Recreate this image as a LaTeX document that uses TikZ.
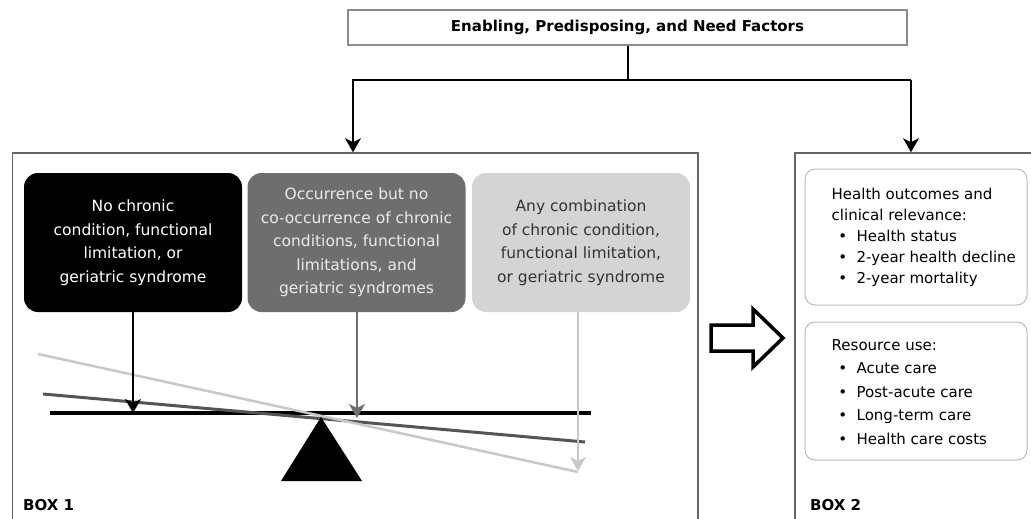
\documentclass[tikz,border=0pt]{standalone}
\usepackage{fontspec}
\setmainfont{DejaVu Sans}
\usetikzlibrary{arrows.meta}
\definecolor{midgray}{HTML}{6E6E6E}
\definecolor{lightfill}{HTML}{D4D4D4}
\definecolor{lightline}{HTML}{C8C8C8}
\definecolor{darkline}{HTML}{555555}
\definecolor{framegray}{HTML}{666666}
\definecolor{innergray}{HTML}{BBBBBB}
\begin{document}
\begin{tikzpicture}[x=1pt,y=-1pt,
  frame/.style={draw=framegray, line width=1.5pt, minimum height=377pt, inner sep=0pt},
  catbox/.style={rounded corners=14pt, minimum width=218pt, minimum height=139pt, inner sep=0pt, align=center, font=\fontsize{15.5}{23.5}\selectfont},
  outbox/.style={draw=innergray, line width=1pt, rounded corners=10pt, minimum width=222pt, inner sep=0pt},
  outtext/.style={anchor=west, inner sep=0pt, align=left},
  conn/.style={line width=2pt, line join=miter},
  arr/.style={conn, -{Stealth[length=14pt, width=16pt, inset=4pt]}},
  boxlabel/.style={anchor=west, inner sep=0pt, font=\fontsize{15}{18}\selectfont\bfseries}
]
\useasboundingbox (0,0) rectangle (1031,519);
\clip (0,0) rectangle (1031,519);

% top factor box
\node[draw=black!45, line width=1.2pt, fill=white, minimum width=559pt, minimum height=35pt, inner sep=0pt,
      font=\fontsize{15}{18}\selectfont\bfseries] (top) at (627.5,27.5) {Enabling, Predisposing, and Need Factors};

% frames
\node[frame, minimum width=685.5pt] (box1) at (355.25,341.5) {};
\node[frame, minimum width=250pt] (box2) at (920,341.5) {};

% connectors from top
\coordinate (jL) at (353,80);
\coordinate (jR) at (911,80);
\draw[conn] (top.south) -- (top.south |- jL);
\draw[arr] (jR) -- (jL) -- (jL |- box1.north);
\draw[arr] (jR) -- (jR |- box2.north);

% category boxes
\node[catbox, fill=black, text=white] (nobox) at (133,242.5)
  {No chronic\\condition, functional\\limitation, or\\geriatric syndrome};
\node[catbox, fill=midgray, text=black!8] (gbox) at (356.5,242.5)
  {Occurrence but no\\co-occurrence of chronic\\conditions, functional\\limitations, and\\geriatric syndromes};
\node[catbox, fill=lightfill, text=black!80] (lbox) at (581,242.5)
  {Any combination\\of chronic condition,\\functional limitation,\\or geriatric syndrome};

% seesaw
\coordinate (beamL) at (50,413);
\coordinate (beamR) at (591,413);
\coordinate (dkL) at (43,394);
\coordinate (dkR) at (585,442);
\coordinate (ltL) at (38,354);
\coordinate (ltR) at (578,472);
\coordinate (tA) at (133,413);
\coordinate (tB) at (357,418);
\coordinate (tC) at (578,471);

\draw[line width=3.5pt, black] (beamL) -- (beamR);
\draw[line width=3pt, darkline] (dkL) -- (dkR);
\draw[line width=2.5pt, lightline] (ltL) -- (ltR);

\fill[black] (321,417) -- (362,481) -- (281,481) -- cycle;

\draw[arr, lightline, line width=1.6pt] (lbox.south -| tC) -- (tC);
\draw[arr, midgray] (gbox.south -| tB) -- (tB);
\draw[arr, black] (nobox.south) -- (tA);

% hollow arrow
\draw[line width=3.5pt, line join=miter, fill=white]
  (711,325) -- (753,325) -- (753,309) -- (783,338) -- (753,367) -- (753,351) -- (711,351) -- cycle;

% outcome boxes
\node[outbox, minimum height=136pt] (health) at (916,237) {};
\node[outbox, minimum height=138pt] (resource) at (916,391) {};
\node[outtext, font=\fontsize{15}{21}\selectfont] (healthtxt) at ([xshift=27pt]health.west)
  {Health outcomes and\\clinical relevance:\\\makebox[22pt]{•}\hspace{3pt}Health status\\\makebox[22pt]{•}\hspace{3pt}2-year health decline\\\makebox[22pt]{•}\hspace{3pt}2-year mortality};
\node[outtext, font=\fontsize{15}{23.5}\selectfont] (restxt) at ([xshift=27pt,yshift=-1pt]resource.west)
  {Resource use:\\\makebox[22pt]{•}\hspace{3pt}Acute care\\\makebox[22pt]{•}\hspace{3pt}Post-acute care\\\makebox[22pt]{•}\hspace{3pt}Long-term care\\\makebox[22pt]{•}\hspace{3pt}Health care costs};

% labels
\node[boxlabel] (lab1) at (23,505) {BOX 1};
\node[boxlabel] (lab2) at (810,505) {BOX 2};
\end{tikzpicture}
\end{document}
